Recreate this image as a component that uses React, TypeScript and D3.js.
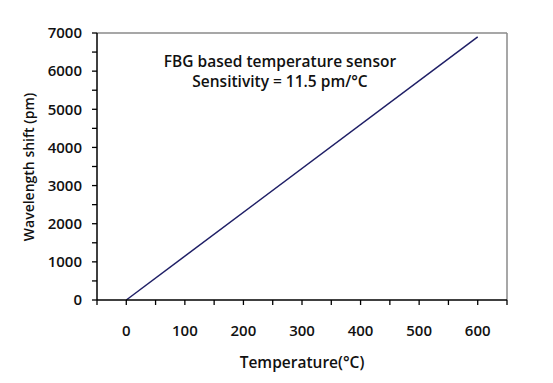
import React from "react";
import * as d3 from "d3";

const temperature = [0, 600];
const wavelengthShift = [0, 6900];
const xTickValues = [0, 100, 200, 300, 400, 500, 600];
const yTickValues = [0, 1000, 2000, 3000, 4000, 5000, 6000, 7000];
const titleLines = ["FBG based temperature sensor", "Sensitivity = 11.5 pm/°C"];

const W = 553, H = 383;
const M = { left: 97, top: 33, right: 507, bottom: 300 };
const FONT = "'Open Sans', 'Noto Sans', sans-serif";

export default function App() {
  const x = d3.scaleLinear().domain([-50, 650]).range([M.left, M.right]);
  const y = d3.scaleLinear().domain([0, 7000]).range([M.bottom, M.top]);
  const pts = temperature.map((t, i) => [t, wavelengthShift[i]] as [number, number]);
  const line = d3.line<[number, number]>().x(d => x(d[0])).y(d => y(d[1]));
  const xMinor = d3.range(-50, 651, 50);
  const yMinor = d3.range(0, 7001, 500);
  return (
    <svg width={W} height={H} style={{ position: "absolute", left: 0, top: 0, background: "#fff" }}>
      <rect x={0} y={0} width={W} height={H} fill="#fff" />
      <line x1={M.left} x2={M.right} y1={M.top} y2={M.top} stroke="#8a8a8a" strokeWidth={1.5} />
      <line x1={M.right} x2={M.right} y1={M.top} y2={M.bottom} stroke="#8a8a8a" strokeWidth={1.5} />
      <path d={line(pts) || ""} fill="none" stroke="#1f1f66" strokeWidth={1.5} />
      <line x1={M.left} x2={M.right} y1={M.bottom} y2={M.bottom} stroke="#000" strokeWidth={1.5} />
      <line x1={M.left} x2={M.left} y1={M.top} y2={M.bottom} stroke="#000" strokeWidth={1.5} />
      {xMinor.map(v => (
        <line key={"xm" + v} x1={x(v)} x2={x(v)} y1={M.bottom} y2={M.bottom + 5} stroke="#000" strokeWidth={1.3} />
      ))}
      {yMinor.map(v => (
        <line key={"ym" + v} x1={M.left - 5} x2={M.left} y1={y(v)} y2={y(v)} stroke="#000" strokeWidth={1.3} />
      ))}
      {xTickValues.map(v => (
        <text key={"xt" + v} x={x(v)} y={336} textAnchor="middle" fontFamily={FONT} fontSize={15} fontWeight={600} fill="#111">{v}</text>
      ))}
      {yTickValues.map(v => (
        <text key={"yt" + v} x={82} y={y(v)} dy="0.35em" textAnchor="end" fontFamily={FONT} fontSize={15} fontWeight={600} fill="#111">{v}</text>
      ))}
      <text x={302} y={368} textAnchor="middle" fontFamily={FONT} fontSize={15.5} fontWeight={600} fill="#111">Temperature(°C)</text>
      <text transform={`translate(34,167) rotate(-90)`} textAnchor="middle" fontFamily={FONT} fontSize={14} fontWeight={600} fill="#111">Wavelength shift (pm)</text>
      {titleLines.map((t, i) => (
        <text key={t} x={280} y={67 + i * 20} textAnchor="middle" fontFamily={FONT} fontSize={15.5} fontWeight={600} fill="#111">{t}</text>
      ))}
    </svg>
  );
}
